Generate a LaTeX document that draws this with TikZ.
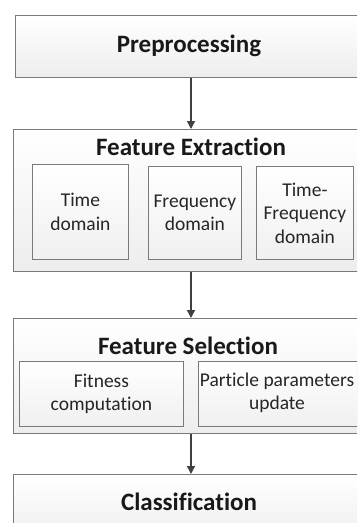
\documentclass[tikz,border=0pt]{standalone}
\usepackage{fontspec}
\setmainfont{Carlito}[Ligatures={NoCommon,NoRequired,NoContextual}]
\usetikzlibrary{arrows.meta,shadows}

\definecolor{edgegray}{HTML}{7A7A7A}
\definecolor{arrowgray}{HTML}{404040}

\tikzset{
  panel/.style={draw=edgegray, line width=1pt, top color=white, bottom color=black!7,
    anchor=north west, inner sep=0pt},
  subbox/.style={draw=edgegray, line width=0.8pt, top color=white, bottom color=black!6,
    anchor=north west, inner sep=0pt,
    drop shadow={shadow xshift=0.8pt, shadow yshift=-0.8pt, fill=black!35, opacity=0.6}},
  title/.style={font=\fontsize{25}{30}\selectfont\bfseries, text=black!90, inner sep=0pt},
  body/.style={font=\fontsize{19.5}{23.5}\selectfont, text=black!85, align=center, inner sep=0pt},
  flow/.style={draw=arrowgray, line width=1.4pt, -{Triangle[width=8pt,length=8pt]}},
}

\begin{document}
\begin{tikzpicture}[x=1pt, y=-1pt]
  \useasboundingbox (0,0) rectangle (357,523);
  \clip (0,0) rectangle (357,523);

  % stage panels
  \node[panel, minimum width=365pt, minimum height=62pt]  (pre) at (15,15) {};
  \node[panel, minimum width=365pt, minimum height=142pt] (fe)  at (12.5,129) {};
  \node[panel, minimum width=365pt, minimum height=115pt] (fs)  at (12.5,318) {};
  \node[panel, minimum width=365pt, minimum height=70pt]  (cls) at (12.5,474) {};

  % stage titles
  \node[title] (preT) at (189,46)  {Preprocessing};
  \node[title] (feT)  at (191,147) {Feature Extraction};
  \node[title] (fsT)  at (188,346) {Feature Selection};
  \node[title] (clsT) at (189,502) {Classification};

  % feature extraction sub-blocks
  \node[subbox, minimum width=96pt, minimum height=95pt] (td)  at (32,164)  {};
  \node[subbox, minimum width=93pt, minimum height=93pt] (fd)  at (148,166) {};
  \node[subbox, minimum width=97pt, minimum height=93pt] (tfd) at (256,166) {};
  \node[body] (tdT)  at (td.center)  {Time\\domain};
  \node[body] (fdT)  at (fd.center)  {Frequency\\domain};
  \node[body] (tfdT) at (tfd.center) {Time-\\Frequency\\domain};

  % feature selection sub-blocks
  \node[subbox, minimum width=164pt, minimum height=65pt] (fit) at (19,361)  {};
  \node[subbox, minimum width=175pt, minimum height=65pt] (pp)  at (198,361) {};
  \node[body] (fitT) at (fit.center) {Fitness\\computation};
  \node[body] (ppT)  at (277,393) {Particle parameters\\update};

  % flow arrows
  \coordinate (ax) at (191,0);
  \draw[flow] (pre.south -| ax) -- (fe.north -| ax);
  \draw[flow] (fe.south -| ax)  -- (fs.north -| ax);
  \draw[flow] (fs.south -| ax)  -- (cls.north -| ax);
\end{tikzpicture}
\end{document}
